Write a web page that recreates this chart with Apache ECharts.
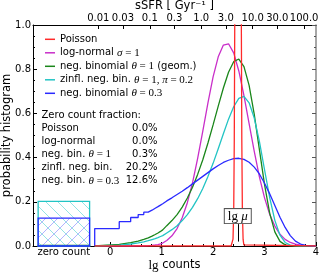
<!DOCTYPE html>
<html><head><meta charset="utf-8">
<script src="https://cdn.jsdelivr.net/npm/echarts@6/dist/echarts.min.js"></script>
<style>html,body{margin:0;padding:0;background:#fff}#c{width:320px;height:273px}</style>
</head><body><div id="c"></div>
<script>
// ---------------- data ----------------
const seriesNames = ['Poisson', 'log-normal σ=1', 'neg. binomial θ=1 (geom.)', 'zinfl. neg. bin. θ=1, π=0.2', 'neg. binomial θ=0.3'];
const tableLabels = ['Poisson', 'log-normal', 'neg. bin. θ=1', 'zinfl. neg. bin.', 'neg. bin. θ=0.3'];
const zeroFractions = [0.0, 0.0, 0.003, 0.202, 0.126];

// histogram bin edges lg(n-0.5), n = 1..11
const stepEdges = [-0.301, 0.176, 0.398, 0.544, 0.653, 0.740, 0.813, 0.875, 0.929, 0.978, 1.021];
const stepPoisson = [0, 0, 0, 0, 0, 0, 0, 0, 0, 0];
const stepLognormal = [0, 0, 0.0002, 0.0006, 0.0014, 0.0027, 0.0046, 0.0067, 0.0095, 0.0134];
const stepGeom = [0.007, 0.015, 0.022, 0.030, 0.037, 0.045, 0.052, 0.059, 0.066, 0.073];
const stepZinfl = [0.004, 0.009, 0.014, 0.019, 0.024, 0.029, 0.033, 0.038, 0.043, 0.047];
const stepNb03 = [0.079, 0.110, 0.129, 0.142, 0.153, 0.162, 0.171, 0.178, 0.185, 0.191];

const curveX = [1.1, 1.2, 1.3, 1.4, 1.5, 1.6, 1.7, 1.8, 1.9, 2.0, 2.1, 2.2, 2.3, 2.4, 2.5, 2.6, 2.7, 2.8, 2.9, 3.0, 3.1, 3.2, 3.3, 3.4, 3.5, 3.6, 3.7, 3.8, 3.9, 4.0];
const curveLognormal = [0.025, 0.046, 0.079, 0.128, 0.196, 0.286, 0.397, 0.520, 0.648, 0.765, 0.856, 0.909, 0.915, 0.874, 0.792, 0.680, 0.554, 0.428, 0.313, 0.218, 0.143, 0.090, 0.053, 0.030, 0.016, 0.008, 0.004, 0.002, 0.001, 0.0];
const curveGeom = [0.092, 0.115, 0.142, 0.176, 0.217, 0.266, 0.324, 0.390, 0.466, 0.548, 0.633, 0.715, 0.786, 0.834, 0.846, 0.812, 0.727, 0.596, 0.436, 0.278, 0.149, 0.064, 0.021, 0.005, 0.001, 0, 0, 0, 0, 0];
const curveZinfl = [0.059, 0.074, 0.092, 0.115, 0.142, 0.175, 0.214, 0.260, 0.314, 0.374, 0.440, 0.508, 0.574, 0.630, 0.668, 0.677, 0.648, 0.579, 0.473, 0.345, 0.219, 0.116, 0.049, 0.016, 0.004, 0.001, 0, 0, 0, 0];
const curveNb03 = [0.204, 0.218, 0.233, 0.248, 0.264, 0.281, 0.298, 0.315, 0.332, 0.349, 0.364, 0.378, 0.388, 0.395, 0.397, 0.392, 0.379, 0.357, 0.326, 0.284, 0.236, 0.183, 0.130, 0.084, 0.047, 0.022, 0.009, 0.003, 0.001, 0.0];

const poissonX = [2.35, 2.373, 2.387, 2.401, 2.412, 2.421, 2.429, 2.443, 2.457, 2.485, 2.513, 2.527, 2.541, 2.549, 2.558, 2.569, 2.583, 2.597, 2.62, 4.0];
const poissonY = [0, 0.005, 0.031, 0.158, 0.484, 1.013, 1.929, 4.622, 8.643, 14.25, 8.643, 4.622, 1.929, 1.013, 0.484, 0.158, 0.031, 0.005, 0, 0];

const lgMu = 2.48;
const countTicks = [0, 1, 2, 3, 4];
const countMinorTicks = [0.2, 0.4, 0.6, 0.8, 1.2, 1.4, 1.6, 1.8, 2.2, 2.4, 2.6, 2.8, 3.2, 3.4, 3.6, 3.8];
const sSFRTicks = [0.01, 0.03, 0.1, 0.3, 1.0, 3.0, 10.0, 30.0, 100.0];
const sSFRLabels = ['0.01', '0.03', '0.1', '0.3', '1.0', '3.0', '10.0', '30.0', '100.0'];

// ---------------- layout / style ----------------
const X_MIN = -1.5, X_MAX = 4;
const SSFR_OFFSET = 1.77;
const ZB_X0 = -1.40, ZB_X1 = -0.40, ZERO_LABEL_X = -0.9;
const colors = ['#ff2a2a', '#c92ec9', '#1a861a', '#22c4c4', '#2a2aff'];
const SANS = 'DejaVu Sans', SERIF = 'Liberation Serif';

function build(steps, cx, cy) {
  const pts = [[stepEdges[0], 0]];
  for (let i = 0; i < steps.length; i++) {
    pts.push([stepEdges[i], steps[i]], [stepEdges[i + 1], steps[i]]);
  }
  for (let j = 0; j < cx.length; j++) pts.push([cx[j], cy[j]]);
  return pts;
}
const lineData = [
  build(stepPoisson, poissonX, poissonY),
  build(stepLognormal, curveX, curveLognormal),
  build(stepGeom, curveX, curveGeom),
  build(stepZinfl, curveX, curveZinfl),
  build(stepNb03, curveX, curveNb03)
];

function hatch(color, dir) {
  const s = 12;
  const c = document.createElement('canvas');
  c.width = s; c.height = s;
  const g = c.getContext('2d');
  g.strokeStyle = color; g.lineWidth = 0.8;
  g.beginPath();
  for (const k of [-s, 0, s]) {
    if (dir === 'back') { g.moveTo(k, 0); g.lineTo(k + s, s); }
    else { g.moveTo(k, s); g.lineTo(k + s, 0); }
  }
  g.stroke();
  return { image: c, repeat: 'repeat' };
}
const fills = [null, null, 'rgba(26,134,26,0.2)', hatch('rgba(34,196,196,0.6)', 'back'), hatch('rgba(42,42,255,0.45)', 'fwd')];

const richMath = {
  a: { fontFamily: SANS, fontSize: 10, color: '#000' },
  m: { fontFamily: SERIF, fontStyle: 'italic', fontSize: 11, color: '#000' },
  n: { fontFamily: SERIF, fontSize: 11, color: '#000' }
};
const legendRich = {
  'Poisson': '{a|Poisson}',
  'log-normal σ=1': '{a|log-normal }{m|σ}{n| = 1}',
  'neg. binomial θ=1 (geom.)': '{a|neg. binomial }{m|θ}{n| = 1}{a| (geom.)}',
  'zinfl. neg. bin. θ=1, π=0.2': '{a|zinfl. neg. bin. }{m|θ}{n| = 1, }{m|π}{n| = 0.2}',
  'neg. binomial θ=0.3': '{a|neg. binomial }{m|θ}{n| = 0.3}'
};
const tableRich = ['{a|Poisson}', '{a|log-normal}', '{a|neg. bin. }{m|θ}{n| = 1}', '{a|zinfl. neg. bin.}', '{a|neg. bin. }{m|θ}{n| = 0.3}'];

const chart = echarts.init(document.getElementById('c'), null, { renderer: 'canvas' });

const series = [];
series.push({
  type: 'custom', name: 'zero count', xAxisIndex: 0, yAxisIndex: 0, silent: true, z: 1,
  encode: { x: 1, y: 0 },
  data: [2, 3, 4].filter(i => zeroFractions[i] > 0).map(i => [zeroFractions[i], i]),
  renderItem: function (params, api) {
    const h = api.value(0), k = api.value(1);
    const p0 = api.coord([ZB_X0, h]);
    const p1 = api.coord([ZB_X1, 0]);
    return {
      type: 'rect',
      shape: { x: p0[0], y: p0[1], width: p1[0] - p0[0], height: p1[1] - p0[1] },
      style: { fill: fills[k], stroke: colors[k], lineWidth: 1.3 }
    };
  }
});
[1, 2, 3, 4, 0].forEach(function (i) {
  const s = {
    type: 'line', name: seriesNames[i], data: lineData[i], symbol: 'none', showSymbol: false,
    xAxisIndex: 0, yAxisIndex: 0, z: 3, clip: true,
    lineStyle: { color: colors[i], width: 1.3 }, itemStyle: { color: colors[i] }
  };
  series.push(s);
});
// lg mu annotation (drawn on top of the curves)
series.push({
  type: 'line', name: 'lg mu', data: [], xAxisIndex: 0, yAxisIndex: 0, z: 6, silent: true,
  markLine: {
    silent: true, z: 6, symbol: ['none', 'arrow'], symbolSize: [0, 9],
    lineStyle: { color: '#000', width: 1, type: 'solid' },
    itemStyle: { color: '#000' },
    label: {
      show: true, position: 'start', distance: 1,
      formatter: '{r|lg} {m|μ}',
      backgroundColor: '#fff', borderColor: '#555', borderWidth: 1, padding: [1, 3, 0, 3],
      rich: {
        r: { fontFamily: SERIF, fontSize: 13, color: '#000' },
        m: { fontFamily: SERIF, fontStyle: 'italic', fontSize: 13, color: '#000' }
      }
    },
    data: [[{ coord: [lgMu, 0.099] }, { coord: [lgMu, 0.02] }]]
  }
});

const graphic = [];
const rowY = [128.5, 141.5, 154.5, 167.6, 180.7];
graphic.push({ type: 'text', x: 41.5, y: 115.7, z: 10, style: { text: 'Zero count fraction:', font: '10px "DejaVu Sans"', fill: '#000', verticalAlign: 'middle' } });
tableLabels.forEach(function (lab, i) {
  graphic.push({ type: 'text', x: 41.5, y: rowY[i], z: 10, style: { text: tableRich[i], rich: richMath, font: '10px "DejaVu Sans"', fill: '#000', verticalAlign: 'middle' } });
  graphic.push({ type: 'text', x: 157.5, y: rowY[i], z: 10, style: { text: (zeroFractions[i] * 100).toFixed(1) + '%', font: '10px "DejaVu Sans"', fill: '#000', align: 'right', verticalAlign: 'middle' } });
});

const tickFont = { fontFamily: SANS, fontSize: 10, color: '#000' };

chart.setOption({
  animation: false,
  backgroundColor: '#fff',
  grid: { left: 33, right: 4, top: 25, bottom: 27, containLabel: false, outerBoundsMode: 'none' },
  legend: {
    data: seriesNames, orient: 'vertical', left: 45, top: 33.3, padding: 0,
    icon: 'rect', itemWidth: 10, itemHeight: 1.5, itemGap: 1.5,
    textStyle: { fontFamily: SANS, fontSize: 10, color: '#000', lineHeight: 12, rich: richMath },
    formatter: function (n) { return legendRich[n] || n; },
    selectedMode: false
  },
  xAxis: [
    {
      type: 'value', position: 'bottom', min: X_MIN, max: X_MAX,
      axisLine: { show: true, onZero: false, lineStyle: { color: '#000', width: 1 } },
      axisTick: { show: true, inside: true, length: 4, customValues: countTicks, lineStyle: { color: '#000' } },
      axisLabel: {
        customValues: [ZERO_LABEL_X].concat(countTicks), margin: 1, ...tickFont,
        formatter: function (v) { return Math.abs(v - ZERO_LABEL_X) < 1e-6 ? 'zero count' : String(v); }
      },
      splitLine: { show: false },
      name: '{m|lg}{a| counts}', nameLocation: 'middle', nameGap: 13, nameMoveOverlap: false,
      nameTextStyle: { rich: { m: { fontFamily: SERIF, fontSize: 13, color: '#000' }, a: { fontFamily: SANS, fontSize: 11.5, color: '#000' } } }
    },
    {
      type: 'value', position: 'top', min: X_MIN - SSFR_OFFSET, max: X_MAX - SSFR_OFFSET,
      axisLine: { show: true, onZero: false, lineStyle: { color: '#000', width: 1 } },
      axisTick: { show: true, inside: true, length: 4, customValues: sSFRTicks.map(Math.log10), lineStyle: { color: '#000' } },
      axisLabel: {
        customValues: sSFRTicks.map(Math.log10), margin: 2, ...tickFont,
        formatter: function (v) {
          for (let i = 0; i < sSFRTicks.length; i++) if (Math.abs(Math.log10(sSFRTicks[i]) - v) < 1e-6) return sSFRLabels[i];
          return '';
        }
      },
      splitLine: { show: false },
      name: 'sSFR [ Gyr⁻¹ ]', nameLocation: 'middle', nameGap: 13, nameMoveOverlap: false,
      nameTextStyle: { fontFamily: SANS, fontSize: 11.5, color: '#000' }
    },
    {
      type: 'value', position: 'bottom', min: X_MIN, max: X_MAX,
      axisLine: { show: false },
      axisTick: { show: true, inside: true, length: 2, customValues: countMinorTicks, lineStyle: { color: '#000' } },
      axisLabel: { show: false }, splitLine: { show: false }
    }
  ],
  yAxis: [
    {
      type: 'value', position: 'left', min: 0, max: 1, interval: 0.2,
      axisLine: { show: true, onZero: false, lineStyle: { color: '#000', width: 1 } },
      axisTick: { show: true, inside: true, length: 4, lineStyle: { color: '#000' } },
      minorTick: { show: true, splitNumber: 4, length: 2, lineStyle: { color: '#000' } },
      axisLabel: { margin: 2, ...tickFont, formatter: function (v) { return v.toFixed(1); } },
      splitLine: { show: false },
      name: 'probability histogram', nameLocation: 'middle', nameGap: 20, nameMoveOverlap: false,
      nameTextStyle: { fontFamily: SANS, fontSize: 11.5, color: '#000' }
    },
    {
      type: 'value', position: 'right', min: 0, max: 1, interval: 0.2,
      axisLine: { show: true, onZero: false, lineStyle: { color: '#888', width: 1.5 } },
      axisTick: { show: true, inside: true, length: 4, lineStyle: { color: '#555' } },
      minorTick: { show: true, splitNumber: 4, length: 2, lineStyle: { color: '#555' } },
      axisLabel: { show: false }, splitLine: { show: false }
    }
  ],
  series: series,
  graphic: graphic
});
</script></body></html>
